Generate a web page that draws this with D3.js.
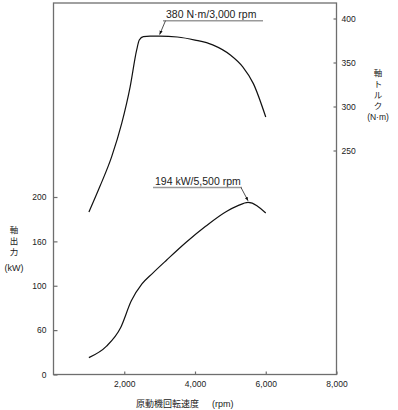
<!DOCTYPE html>
<html>
<head>
<meta charset="utf-8"/>
<script src="https://d3js.org/d3.v7.min.js"></script>
<style>
    body { margin: 0; background: #ffffff; }
    svg { display: block; font-family: "Liberation Sans", Arial, "Noto Sans CJK JP", sans-serif; }
    .axis text { fill: #222222; font-size: 8.5px; }
    .axis line { stroke: #6e6e6e; stroke-width: 1.2; }
    .cjk { font-family: "Noto Sans CJK JP", sans-serif; }
</style>
</head>
<body>
<svg id="chart" width="398" height="410"></svg>
<script>

// engine speed (rpm) for each curve
var torqueRpm = [1000, 1310, 1645, 1930, 2165, 2350, 2425, 2540, 2730, 3000, 3500, 4000, 4500, 5000, 5350, 5650, 6000];
var torqueNm  = [180, 209, 243, 281, 322, 364, 375.5, 379.5, 380, 380, 379, 375.5, 370, 358.5, 345, 326, 288];

var powerRpm = [1000, 1500, 1900, 2200, 2500, 2800, 3200, 3750, 4300, 4900, 5200, 5500, 6000];
var powerKw  = [19, 32, 53, 83, 102, 114, 129, 149, 167, 184, 190, 194, 182];

// ticks
var rpmTicks = [2000, 4000, 6000, 8000];
var kwTicks = [0, 50, 100, 150, 200];
var kwTickLabels = ["0", "60", "100", "160", "200"];   // as printed on the original
var nmTicks = [250, 300, 350, 400];

var svg = d3.select("#chart");

var x = d3.scaleLinear().domain([0, 8000]).range([53.5, 336.5]);
var yKw = d3.scaleLinear().domain([0, 200]).range([374.5, 197]);
var yNm = d3.scaleLinear().domain([250, 400]).range([150.5, 18.5]);

//Frame
svg.append("rect")
    .attr("x", 53.5).attr("y", 3)
    .attr("width", 283).attr("height", 371.5)
    .attr("fill", "none").attr("stroke", "#6e6e6e").attr("stroke-width", 1.3);

//Axes
var axX = d3.axisBottom(x).tickValues(rpmTicks).tickSize(-3).tickPadding(6)
    .tickFormat(d3.format(","));
svg.append("g").attr("class", "axis").attr("transform", "translate(0,374.5)").call(axX);

var axL = d3.axisLeft(yKw).tickValues(kwTicks).tickSize(-4).tickPadding(7)
    .tickFormat(function (d, i) { return kwTickLabels[i]; });
svg.append("g").attr("class", "axis").attr("transform", "translate(53.5,0)").call(axL);

var axR = d3.axisRight(yNm).tickValues(nmTicks).tickSize(-3).tickPadding(5);
svg.append("g").attr("class", "axis").attr("transform", "translate(336.5,0)").call(axR);

svg.selectAll(".axis .domain").remove();

//Axis titles
var bottom = svg.append("text").attr("x", 136).attr("y", 406.5)
    .attr("font-size", "9px").attr("fill", "#222222");
bottom.append("tspan").attr("class", "cjk").text("原動機回転速度");
bottom.append("tspan").attr("dx", 13).text("(rpm)");

var leftTitle = ["軸", "出", "力"];
leftTitle.forEach(function (c, i) {
    svg.append("text").attr("class", "cjk").attr("x", 14).attr("y", 232.5 + i * 11).attr("text-anchor", "middle")
        .attr("font-size", "8.5px").attr("fill", "#222222").text(c);
});
svg.append("text").attr("x", 14).attr("y", 270.5).attr("text-anchor", "middle")
    .attr("font-size", "9px").attr("fill", "#222222").text("(kW)");

var rightTitle = ["軸", "ト", "ル", "ク"];
rightTitle.forEach(function (c, i) {
    svg.append("text").attr("class", "cjk").attr("x", 378).attr("y", 75.5 + i * 11).attr("text-anchor", "middle")
        .attr("font-size", "8.5px").attr("fill", "#222222").text(c);
});
svg.append("text").attr("x", 378).attr("y", 119.5).attr("text-anchor", "middle")
    .attr("font-size", "8.5px").attr("fill", "#222222").text("(N·m)");

//Curves
var torqueLine = d3.line()
    .x(function (d, i) { return x(torqueRpm[i]); })
    .y(function (d) { return yNm(d); })
    .curve(d3.curveMonotoneX);
var powerLine = d3.line()
    .x(function (d, i) { return x(powerRpm[i]); })
    .y(function (d) { return yKw(d); })
    .curve(d3.curveMonotoneX);

svg.append("path").attr("d", torqueLine(torqueNm))
    .attr("fill", "none").attr("stroke", "#111111").attr("stroke-width", 1.2);
svg.append("path").attr("d", powerLine(powerKw))
    .attr("fill", "none").attr("stroke", "#111111").attr("stroke-width", 1.2);

//Annotations
svg.append("defs").append("marker")
    .attr("id", "arrow").attr("viewBox", "0 0 10 10")
    .attr("refX", 10).attr("refY", 5)
    .attr("markerWidth", 5).attr("markerHeight", 5)
    .attr("orient", "auto")
    .append("path").attr("d", "M0,1 L10,5 L0,9 Z").attr("fill", "#111111");

function annotate(label, px, py, textX, lineY, x0, x1, leaderX) {
    svg.append("text").attr("x", textX).attr("y", lineY - 2.5)
        .attr("font-size", "10.5px").attr("fill", "#222222").text(label);
    svg.append("line").attr("x1", x0).attr("x2", x1).attr("y1", lineY).attr("y2", lineY)
        .attr("stroke", "#9a9a9a").attr("stroke-width", 1.4);
    svg.append("line").attr("x1", leaderX).attr("y1", lineY)
        .attr("x2", px).attr("y2", py - 1.5)
        .attr("stroke", "#222222").attr("stroke-width", 0.8)
        .attr("marker-end", "url(#arrow)");
}

annotate("380 N·m/3,000 rpm", x(3000), yNm(380), 166, 20.7, 163, 263, 165.5);
annotate("194 kW/5,500 rpm", x(5500), yKw(194), 155, 187.5, 153, 242, 241);

</script>
</body>
</html>
